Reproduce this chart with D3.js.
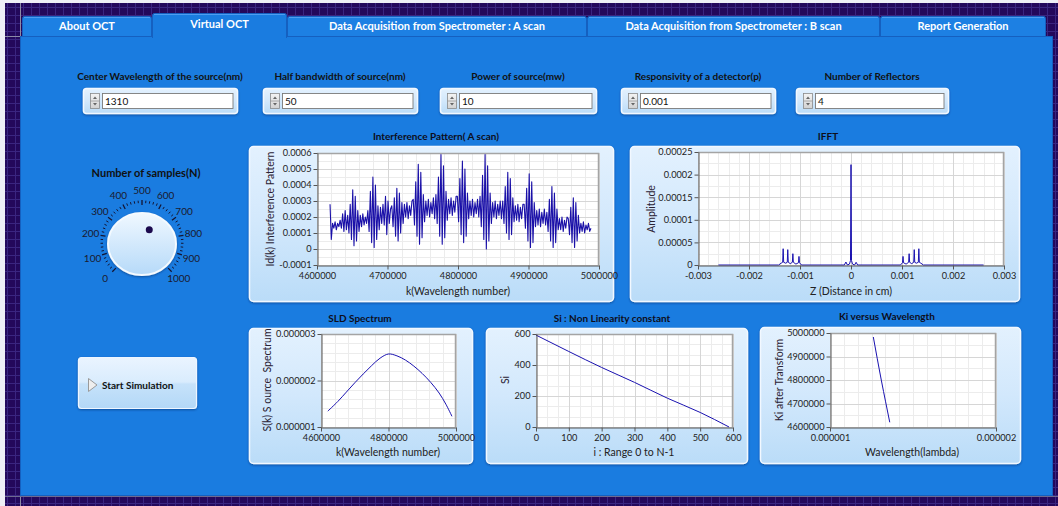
<!DOCTYPE html>
<html><head><meta charset="utf-8">
<script src="https://cdn.jsdelivr.net/npm/d3@7"></script>
<style>
html,body{margin:0;padding:0;background:#23085b;overflow:hidden}
svg{display:block}
text{font-family:Lato,"Open Sans",sans-serif}
</style></head><body>
<svg id="c" width="1058" height="506"></svg>
<script>
// ---------------- data ----------------
const tabLabels = ["About OCT","Virtual OCT","Data Acquisition from Spectrometer : A scan","Data Acquisition from Spectrometer : B scan","Report Generation"];
const inputLabels = ["Center Wavelength of the source(nm)","Half bandwidth of source(nm)","Power of source(mw)","Responsivity of a detector(p)","Number of Reflectors"];
const inputValues = ["1310","50","10","0.001","4"];
const knobLabel = "Number of samples(N)";
const knobTickLabels = [0,100,200,300,400,500,600,700,800,900,1000];
const knobValue = 600;
const buttonLabel = "Start Simulation";

// Interference pattern (A scan): first / last wavenumber sampled and Id(k) samples
const interfKRange = [4618500, 4988600];
const interfIdk = [
0.00028,0.00006,0.00016,0.00013,0.00017,0.00012,0.00016,0.00014,0.00018,
0.00013,0.00022,0.00011,0.00024,0.00012,
0.00021,0.00010,0.00028,0.00006,0.00037,0.00002,0.00033,0.00005,0.00024,0.00011,
0.00021,0.00014,0.00022,0.00015,0.00020,0.00016,
0.00024,0.00011,0.00036,0.00004,0.00045,0.00001,0.00040,0.00006,0.00027,0.00012,
0.00026,0.00016,0.00028,0.00015,0.00033,0.00009,0.00030,0.00016,0.00025,
0.00027,0.00014,0.00032,0.00008,0.00038,0.00005,0.00035,0.00010,0.00029,0.00016,
0.00028,0.00020,0.00029,0.00019,0.00027,0.00021,0.00030,
0.00031,0.00015,0.00042,0.00008,0.00053,0.00003,0.00048,0.00007,0.00034,0.00017,
0.00030,0.00021,0.00031,0.00020,0.00029,0.00022,0.00032,0.00019,
0.00034,0.00016,0.00045,0.00008,0.00059,0.00003,0.00052,0.00007,0.00036,0.00018,
0.00031,0.00022,0.00032,0.00021,0.00030,0.00023,0.00033,
0.00033,0.00017,0.00044,0.00009,0.00055,0.00004,0.00050,0.00008,0.00035,0.00019,
0.00030,0.00021,0.00031,0.00020,0.00029,0.00022,0.00031,0.00020,
0.00033,0.00014,0.00046,0.00006,0.00059,0.00000,0.00052,0.00005,0.00035,0.00016,
0.00029,0.00020,0.00030,0.00019,0.00028,0.00021,0.00030,0.00019,
0.00030,0.00016,0.00039,0.00010,0.00048,0.00006,0.00044,0.00009,0.00032,0.00017,
0.00027,0.00018,0.00028,0.00017,0.00026,0.00019,0.00028,
0.00028,0.00013,0.00038,0.00005,0.00047,0.00001,0.00042,0.00004,0.00029,0.00014,
0.00024,0.00015,0.00025,0.00014,0.00023,0.00016,0.00025,0.00015,
0.00023,0.00011,0.00031,0.00005,0.00039,0.00001,0.00035,0.00004,0.00025,0.00012,
0.00019,0.00012,0.00020,0.00011,0.00018,0.00013,0.00020,
0.00019,0.00009,0.00026,0.00004,0.00032,0.00001,0.00029,0.00005,0.00021,0.00010,
0.00016,0.00011,0.00017,0.00010,0.00015,0.00012,0.00016,0.00011,0.00013
];
const interfXTicks = [4600000,4700000,4800000,4900000,5000000];
const interfYTicks = [-0.0001,0,0.0001,0.0002,0.0003,0.0004,0.0005,0.0006];

// IFFT
const ifftZ = [-0.0026,-0.00142,-0.00137,-0.00134,-0.00133,-0.00132,-0.00128,-0.00125,-0.00124,-0.00123,-0.00119,-0.00115,-0.00114,-0.00113,-0.00108,-0.00103,-0.00102,-0.00101,-0.00097,
  -0.00013,-0.0001,-0.00007,-0.00003,-0.00001,0,0.00001,0.00003,0.00007,0.0001,0.00013,
  0.00097,0.00101,0.00102,0.00103,0.00108,0.00113,0.00114,0.00115,0.00119,0.00123,0.00124,0.00125,0.00128,0.00132,0.00133,0.00134,0.00137,0.00142,0.0026];
const ifftAmp = [0,0,0.000004,0.000006,0.000036,0.000006,0.000004,0.000006,0.000034,0.000006,0.000003,0.000006,0.000025,0.000006,0.000002,0.000005,0.000019,0.000005,0,
  0,0.0000066,0,0.000002,0.00001,0.000222,0.00001,0.000002,0,0.000006,0,
  0,0.000005,0.000019,0.000005,0.000002,0.000006,0.000025,0.000006,0.000003,0.000006,0.000034,0.000006,0.000004,0.000006,0.000036,0.000006,0.000004,0,0];
const ifftXTicks = [-0.003,-0.002,-0.001,0,0.001,0.002,0.003];
const ifftYTicks = [0,0.00005,0.0001,0.00015,0.0002,0.00025];

// SLD spectrum
const sldK = [4620000,4650000,4675000,4700000,4725000,4750000,4775000,4800000,4825000,4850000,4875000,4900000,4925000,4950000,4970000,4988000];
const sldS = [0.00000134,0.00000155,0.00000175,0.00000195,0.00000214,0.00000232,0.00000248,0.00000257,0.00000253,0.00000244,0.00000231,0.00000215,0.00000196,0.00000173,0.00000149,0.00000123];
const sldXTicks = [4600000,4800000,5000000];
const sldYTicks = [0.000001,0.000002,0.000003];

// Si : non linearity constant
const siI = [0,100,200,300,400,500,588];
const siS = [593,487,384,288,186,94,0];
const siXTicks = [0,100,200,300,400,500,600];
const siYTicks = [0,200,400,600];

// Ki versus wavelength
const kiLambda = [0.000001261,0.000001285,0.00000131,0.000001335,0.00000136];
const kiK = [4983000,4890000,4796000,4707000,4620000];
const kiXTicks = [0.000001,0.000002];
const kiYTicks = [4600000,4700000,4800000,4900000,5000000];

// ---------------- drawing ----------------
const svg = d3.select("#c");
const defs = svg.append("defs");
const pat = defs.append("pattern").attr("id","bgGrid").attr("width",8).attr("height",8).attr("patternUnits","userSpaceOnUse");
pat.append("rect").attr("width",8).attr("height",8).attr("fill","#23085b");
pat.append("path").attr("d","M7.5 0V8M0 7.5H8").attr("stroke","#3a2580").attr("fill","none");
function vGrad(id, stops){
  const g = defs.append("linearGradient").attr("id",id).attr("x1",0).attr("y1",0).attr("x2",0).attr("y2",1);
  stops.forEach(s=>g.append("stop").attr("offset",s[0]).attr("stop-color",s[1]));
}
vGrad("panelG",[[0,"#e3f1fe"],[0.5,"#d2e8fc"],[1,"#badcf8"]]);
vGrad("btnG",[[0,"#eaf4ff"],[0.48,"#d9ecfd"],[0.52,"#c6e2fa"],[1,"#b3d8f7"]]);
vGrad("knobG",[[0,"#f0f8ff"],[1,"#b6daf9"]]);
vGrad("spinG",[[0,"#f4f4f4"],[1,"#d2d2d2"]]);
const flt = defs.append("filter").attr("id","sh").attr("x","-10%").attr("y","-10%").attr("width","120%").attr("height","130%");
flt.append("feDropShadow").attr("dx",0).attr("dy",1).attr("stdDeviation",1.2).attr("flood-color","#062a66").attr("flood-opacity",0.55);

// background
svg.append("rect").attr("width",1058).attr("height",506).attr("fill","url(#bgGrid)");
svg.append("rect").attr("width",5).attr("height",506).attr("fill","#eeeef5");
svg.append("rect").attr("width",1058).attr("height",3).attr("fill","#eeeef5");
svg.append("line").attr("x1",20.5).attr("x2",20.5).attr("y1",3).attr("y2",506).attr("stroke","#8c8aa6");
svg.append("line").attr("x1",5).attr("x2",21).attr("y1",36.5).attr("y2",36.5).attr("stroke","#8c8aa6");
svg.append("line").attr("x1",5).attr("x2",1058).attr("y1",496.5).attr("y2",496.5).attr("stroke","#6e6a90");

// tabs
const tabX = [22,152,287,587,880,1046];
function drawTab(i){
  const sel = i===1, x0=tabX[i], x1=tabX[i+1], y0 = sel?13:16;
  const g = svg.append("g");
  g.append("path").attr("d",`M${x0+.5},38 V${y0+2.5} Q${x0+.5},${y0+.5} ${x0+2.5},${y0+.5} H${x1-2.5} Q${x1-.5},${y0+.5} ${x1-.5},${y0+2.5} V38`)
    .attr("fill", sel?"#1a7ce0":"#1d80e3").attr("stroke","#1560c0").attr("stroke-width",1);
  g.append("line").attr("x1",x0+2).attr("x2",x1-2).attr("y1",y0+1.5).attr("y2",y0+1.5).attr("stroke","#4d9df0");
  g.append("text").attr("x",(x0+x1)/2).attr("y",sel?24:26.5).attr("dy","0.35em").attr("text-anchor","middle")
    .attr("font-size",11).attr("font-weight",700).attr("fill","#fff").text(tabLabels[i]);
}
[0,2,3,4].forEach(drawTab);
svg.append("rect").attr("x",20.5).attr("y",36.5).attr("width",1032).attr("height",459).attr("fill","#1a7ce0").attr("stroke","#1560c0");
drawTab(1);

// numeric inputs
const boxX = [83,263,440,621,796], boxW = [154,154,156,154,152];
inputLabels.forEach((lab,i)=>{
  const x=boxX[i], w=boxW[i], g=svg.append("g");
  g.append("text").attr("x",x+w/2).attr("y",76).attr("dy","0.35em").attr("text-anchor","middle")
    .attr("font-size",10).attr("font-weight",700).attr("fill","#111").text(lab);
  g.append("rect").attr("x",x+.5).attr("y",88.5).attr("width",w).attr("height",25).attr("rx",3)
    .attr("fill","url(#panelG)").attr("stroke","#f2f8ff").attr("stroke-width",1.5).attr("filter","url(#sh)");
  g.append("rect").attr("x",x+7.5).attr("y",93.5).attr("width",9).attr("height",15).attr("fill","url(#spinG)").attr("stroke","#8a8a8a").attr("stroke-width",.8);
  g.append("line").attr("x1",x+7.5).attr("x2",x+16.5).attr("y1",101).attr("y2",101).attr("stroke","#9a9a9a").attr("stroke-width",.8);
  g.append("path").attr("d",`M${x+10},99 L${x+12},96.5 L${x+14},99Z M${x+10},103 L${x+12},105.5 L${x+14},103Z`).attr("fill","#666");
  g.append("rect").attr("x",x+19.5).attr("y",93.5).attr("width",w-23.5).attr("height",15).attr("fill","#fff").attr("stroke","#7a7a7a").attr("stroke-width",.9);
  g.append("text").attr("x",x+22).attr("y",101).attr("dy","0.35em").attr("font-size",10).attr("fill","#111").text(inputValues[i]);
});

// knob
const kc = {x:142,y:242};
const ang = v => (-135 + v/1000*270)*Math.PI/180;
const kg = svg.append("g");
kg.append("text").attr("x",146).attr("y",173).attr("dy","0.35em").attr("text-anchor","middle")
  .attr("font-size",11).attr("font-weight",700).attr("fill","#111").text(knobLabel);
d3.range(0,1001,20).forEach(v=>{
  const a=ang(v), major = v%100===0, r0 = major?37:39, r1 = major?42:41.5;
  kg.append("line").attr("x1",kc.x+r0*Math.sin(a)).attr("y1",kc.y-r0*Math.cos(a))
    .attr("x2",kc.x+r1*Math.sin(a)).attr("y2",kc.y-r1*Math.cos(a))
    .attr("stroke","#141432").attr("stroke-width",major?1.3:1);
});
knobTickLabels.forEach(v=>{
  const a=ang(v), r=52;
  kg.append("text").attr("x",kc.x+r*Math.sin(a)).attr("y",kc.y-r*Math.cos(a)).attr("dy","0.35em").attr("text-anchor","middle")
    .attr("font-size",10).attr("fill","#1a1a2e").text(v);
});
kg.append("ellipse").attr("cx",142).attr("cy",244).attr("rx",34).attr("ry",31).attr("fill","url(#knobG)")
  .attr("stroke","#f4faff").attr("stroke-width",2).attr("filter","url(#sh)");
{
  const a = ang(knobValue);
  kg.append("circle").attr("cx",142+16*Math.sin(a)).attr("cy",244-16*Math.cos(a)).attr("r",3.5).attr("fill","#1c0a4e");
}

// button
const bg = svg.append("g");
bg.append("rect").attr("x",78.5).attr("y",357.5).attr("width",118).attr("height",51).attr("rx",3)
  .attr("fill","url(#btnG)").attr("stroke","#eef6ff").attr("stroke-width",1.2).attr("filter","url(#sh)");
bg.append("path").attr("d","M88.5,378.5 L97,385 L88.5,391.5Z").attr("fill","#eeeeee").attr("stroke","#9a9a9a");
bg.append("text").attr("x",102).attr("y",385).attr("dy","0.35em").attr("font-size",10).attr("font-weight",700).attr("fill","#111").text(buttonLabel);

// charts
function minorVals(t,n){ const out=[]; for(let i=0;i<t.length-1;i++) for(let j=1;j<n;j++) out.push(t[i]+(t[i+1]-t[i])*j/n); return out; }
function chart(o){
  const g = svg.append("g");
  const [px,py,pw,ph] = o.panel;
  g.append("rect").attr("x",px+.5).attr("y",py+.5).attr("width",pw).attr("height",ph).attr("rx",4)
    .attr("fill","url(#panelG)").attr("stroke","#f2f8ff").attr("stroke-width",1.5).attr("filter","url(#sh)");
  g.append("text").attr("x",o.titleX).attr("y",o.titleY).attr("dy","0.35em").attr("text-anchor","middle")
    .attr("font-size",10).attr("font-weight",700).attr("fill","#0d0d1a").text(o.title);
  const [x0,x1,y0,y1] = o.plot;
  const xs = d3.scaleLinear().domain(o.xDomain).range([x0,x1]);
  const ys = d3.scaleLinear().domain(o.yDomain).range([y1,y0]);
  g.append("rect").attr("x",x0).attr("y",y0).attr("width",x1-x0).attr("height",y1-y0).attr("fill","#fff");
  const grid = g.append("g");
  minorVals(o.xTicks,o.xSub).forEach(v=>grid.append("line").attr("x1",Math.round(xs(v))+.5).attr("x2",Math.round(xs(v))+.5).attr("y1",y0).attr("y2",y1).attr("stroke","#ececec"));
  minorVals(o.yTicks,o.ySub).forEach(v=>grid.append("line").attr("y1",Math.round(ys(v))+.5).attr("y2",Math.round(ys(v))+.5).attr("x1",x0).attr("x2",x1).attr("stroke","#ececec"));
  o.xTicks.forEach(v=>grid.append("line").attr("x1",Math.round(xs(v))+.5).attr("x2",Math.round(xs(v))+.5).attr("y1",y0).attr("y2",y1).attr("stroke","#d6d6d6"));
  o.yTicks.forEach(v=>grid.append("line").attr("y1",Math.round(ys(v))+.5).attr("y2",Math.round(ys(v))+.5).attr("x1",x0).attr("x2",x1).attr("stroke","#d6d6d6"));
  g.append("path").attr("d",`M${x0},${y0+.5} H${x1-.5} V${y1}`).attr("fill","none").attr("stroke","#a4a4a4").attr("stroke-width",1.5);
  const line = d3.line().x(d=>xs(d[0])).y(d=>ys(d[1])).curve(o.curve||d3.curveLinear);
  g.append("path").datum(o.data).attr("d",line).attr("fill","none").attr("stroke",o.color||"#1a12b0").attr("stroke-width",o.lw||1).attr("stroke-linejoin","round");
  const ax = g.append("g").attr("transform",`translate(0,${y1+.5})`)
    .call(d3.axisBottom(xs).tickValues(o.xTicks).tickFormat(d=>String(d)).tickSize(4).tickSizeOuter(0).tickPadding(3));
  const ay = g.append("g").attr("transform",`translate(${x0+.5},0)`)
    .call(d3.axisLeft(ys).tickValues(o.yTicks).tickFormat(d=>String(d)).tickSize(4).tickSizeOuter(0).tickPadding(2));
  [ax,ay].forEach(a=>{
    a.select(".domain").attr("stroke","#555");
    a.selectAll(".tick line").attr("stroke","#555");
    a.selectAll("text").attr("font-size",9.2).attr("fill","#222").attr("font-family","Lato, 'Open Sans', sans-serif");
  });
  g.append("text").attr("x",o.xLabelX).attr("y",o.xLabelY).attr("dy","0.35em").attr("text-anchor","middle")
    .attr("font-size",10.5).attr("fill","#222").text(o.xLabel);
  g.append("text").attr("transform",`translate(${o.yLabelX},${o.yLabelY}) rotate(-90)`).attr("dy","0.35em").attr("text-anchor","middle")
    .attr("font-size",10.5).attr("fill","#2a2233").attr("style","white-space:pre").text(o.yLabel);
}

const interfIndex = d3.scaleLinear().domain([0, interfIdk.length-1]).range(interfKRange);
chart({panel:[249,146,364,155], title:"Interference Pattern( A scan)", titleX:436, titleY:136,
  plot:[317,599,153,265], xDomain:[4600000,5000000], yDomain:[-0.0001,0.0006],
  xTicks:interfXTicks, yTicks:interfYTicks, xSub:5, ySub:2, color:"#1a10a8", lw:1.1,
  data: interfIdk.map((v,i)=>[interfIndex(i), v]),
  xLabel:"k(Wavelength number)", xLabelX:458, xLabelY:291,
  yLabel:"Id(k) Interference Pattern", yLabelX:270, yLabelY:209});

chart({panel:[630,146,389,155], title:"IFFT", titleX:828, titleY:136,
  plot:[698,1004,152,265], xDomain:[-0.003,0.003], yDomain:[0,0.00025],
  xTicks:ifftXTicks, yTicks:ifftYTicks, xSub:5, ySub:2,
  data: ifftZ.map((z,i)=>[z, ifftAmp[i]]),
  xLabel:"Z (Distance in cm)", xLabelX:851, xLabelY:291,
  yLabel:"Amplitude", yLabelX:651, yLabelY:209});

chart({panel:[249,328,223,135], title:"SLD Spectrum", titleX:360, titleY:318,
  plot:[321,456,334,427], xDomain:[4600000,5000000], yDomain:[0.000001,0.000003],
  xTicks:sldXTicks, yTicks:sldYTicks, xSub:5, ySub:5, curve:d3.curveCatmullRom,
  data: sldK.map((k,i)=>[k, sldS[i]]),
  xLabel:"k(Wavelength number)", xLabelX:388, xLabelY:452,
  yLabel:"S(k) S ource  Spectrum", yLabelX:267, yLabelY:380});

chart({panel:[486,328,261,135], title:"Si : Non Linearity constant", titleX:612, titleY:318,
  plot:[536,733,334,427], xDomain:[0,600], yDomain:[0,600],
  xTicks:siXTicks, yTicks:siYTicks, xSub:3, ySub:3, curve:d3.curveMonotoneX,
  data: siI.map((v,i)=>[v, siS[i]]),
  xLabel:"i : Range 0 to N-1", xLabelX:634, xLabelY:452,
  yLabel:"Si", yLabelX:505, yLabelY:380});

chart({panel:[760,327,260,136], title:"Ki versus Wavelength", titleX:887, titleY:316,
  plot:[830,996,333,427], xDomain:[0.000001,0.000002], yDomain:[4600000,5000000],
  xTicks:kiXTicks, yTicks:kiYTicks, xSub:12, ySub:2, curve:d3.curveMonotoneX,
  data: kiLambda.map((v,i)=>[v, kiK[i]]),
  xLabel:"Wavelength(lambda)", xLabelX:912, xLabelY:452,
  yLabel:"Ki after Transform", yLabelX:779, yLabelY:380});
</script>
</body></html>
